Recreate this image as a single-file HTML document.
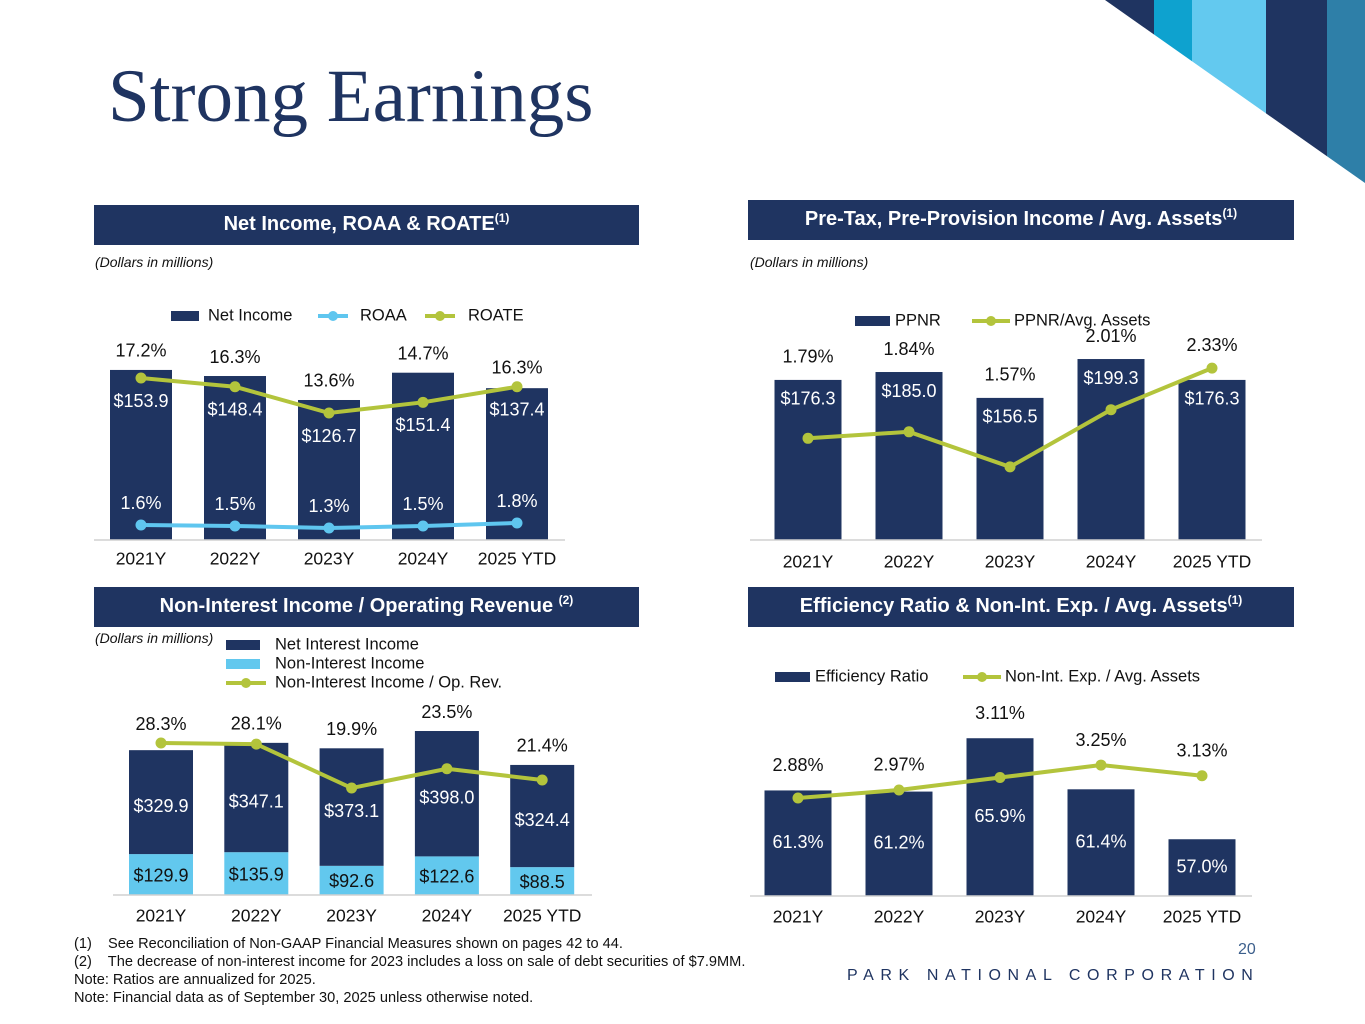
<!DOCTYPE html>
<html><head><meta charset="utf-8"><style>
body{margin:0;width:1365px;height:1024px;background:#fff;overflow:hidden;position:relative;font-family:"Liberation Sans",sans-serif}
.hdr{position:absolute;background:#1f3461;color:#fff;font-weight:bold;font-size:20px;text-align:center;line-height:38px;height:40px}
.hdr sup{font-size:12px;vertical-align:8px;line-height:0}
.dim{position:absolute;font-size:13px;font-style:italic;color:#111}
</style></head><body>
<svg style="position:absolute;left:0;top:0" width="1365" height="200">
<defs><clipPath id="cc"><polygon points="1105,0 1365,0 1365,183"/></clipPath></defs>
<g clip-path="url(#cc)"><rect x="1100" y="0" width="54" height="200" fill="#1f3461"/><rect x="1154" y="0" width="38" height="200" fill="#0ea2cf"/><rect x="1192" y="0" width="74" height="200" fill="#63c9ef"/><rect x="1266" y="0" width="61" height="200" fill="#1f3461"/><rect x="1327" y="0" width="38" height="200" fill="#2e7fa8"/></g></svg>
<div style="position:absolute;left:108px;top:54px;font-family:'Liberation Serif',serif;font-size:75px;color:#1f3461">Strong Earnings</div>
<div class="hdr" style="left:94px;top:205px;width:545px">Net Income, ROAA &amp; ROATE<sup>(1)</sup></div>
<div class="hdr" style="left:748px;top:200px;width:546px">Pre-Tax, Pre-Provision Income / Avg. Assets<sup>(1)</sup></div>
<div class="hdr" style="left:94px;top:587px;width:545px">Non-Interest Income / Operating Revenue <sup>(2)</sup></div>
<div class="hdr" style="left:748px;top:587px;width:546px">Efficiency Ratio &amp; Non-Int. Exp. / Avg. Assets<sup>(1)</sup></div>
<div class="dim" style="left:95px;top:254px;font-size:14px">(Dollars in millions)</div>
<div class="dim" style="left:750px;top:254px;font-size:14px">(Dollars in millions)</div>
<div class="dim" style="left:95px;top:630px;font-size:14px">(Dollars in millions)</div>
<svg id="ch" style="position:absolute;left:0;top:0" width="1365" height="1024"></svg>
<div style="position:absolute;left:74px;top:935px;font-size:14.6px;line-height:18px;color:#111">
<div>(1)&nbsp;&nbsp;&nbsp; See Reconciliation of Non-GAAP Financial Measures shown on pages 42 to 44.</div>
<div>(2)&nbsp;&nbsp;&nbsp; The decrease of non-interest income for 2023 includes a loss on sale of debt securities of $7.9MM.</div>
<div>Note: Ratios are annualized for 2025.</div>
<div>Note: Financial data as of September 30, 2025 unless otherwise noted.</div></div>
<div style="position:absolute;left:1238px;top:941px;font-size:16px;color:#3c5f8c">20</div>
<div style="position:absolute;left:847px;top:967px;font-size:16px;letter-spacing:6.6px;color:#1f3461">PARK NATIONAL CORPORATION</div>
<script>
const categories=["2021Y","2022Y","2023Y","2024Y","2025 YTD"];
const netIncome=[153.9,148.4,126.7,151.4,137.4];
const roaa=[1.6,1.5,1.3,1.5,1.8];
const roate=[17.2,16.3,13.6,14.7,16.3];
const ppnr=[176.3,185.0,156.5,199.3,176.3];
const ppnrAssets=[1.79,1.84,1.57,2.01,2.33];
const netInterestIncome=[329.9,347.1,373.1,398.0,324.4];
const nonInterestIncome=[129.9,135.9,92.6,122.6,88.5];
const nonIntShare=[28.3,28.1,19.9,23.5,21.4];
const efficiency=[61.3,61.2,65.9,61.4,57.0];
const nonIntExp=[2.88,2.97,3.11,3.25,3.13];

const NAVY="#1f3461",LB="#62c8ee",GR="#b3c43c";
const svg=document.getElementById('ch');
function el(tag,attrs,name,txt){const e=document.createElementNS("http://www.w3.org/2000/svg",tag);for(const k in attrs)e.setAttribute(k,attrs[k]);


if(txt!==undefined)e.textContent=txt;svg.appendChild(e);return e;}
function txt(x,y,s,name,color,size){return el('text',{x:x,y:y,'text-anchor':'middle','font-size':size||18,fill:color||'#111','font-family':'Liberation Sans, sans-serif','dominant-baseline':'middle'},name,s);}
function axisCats(x0,step,base,y,x1,x2){el('line',{x1:x1,x2:x2,y1:base,y2:base,stroke:'#d0d0d0','stroke-width':1.5},'x-axis-line');
categories.forEach((c,i)=>txt(x0+i*step,y,c,'x-tick-label','#111',17.5));}
function line(vals,xf,yf,color,name,w){const pts=vals.map((v,i)=>xf(i)+','+yf(v)).join(' ');
el('polyline',{points:pts,fill:'none',stroke:color,'stroke-width':w||4},name);
vals.forEach((v,i)=>el('circle',{cx:xf(i),cy:yf(v),r:5.5,fill:color},name+'-point'));}
function legRect(x,y,w,c,name){el('rect',{x:x,y:y-5,width:w,height:10,fill:c},name);}
function legLine(x,y,w,c,name){el('line',{x1:x,x2:x+w,y1:y,y2:y,stroke:c,'stroke-width':4},name);el('circle',{cx:x+w/2,cy:y,r:5,fill:c},name+'-marker');}
function legTxt(x,y,s,name){const t=txt(x,y,s,name,'#111',16.5);t.setAttribute('text-anchor','start');}

// Chart 1
{const x=i=>141+i*94,base=540,bw=62,by=v=>base-v*1.105,ly=v=>545.2-v*9.72,ay=v=>541-v*10;
legRect(171,316,28,NAVY,'legend-net-income');legTxt(208,316,'Net Income','legend-net-income-label');
legLine(318,316,30,"#5fc6ef",'legend-roaa');legTxt(360,316,'ROAA','legend-roaa-label');
legLine(425,316,30,GR,'legend-roate');legTxt(468,316,'ROATE','legend-roate-label');
netIncome.forEach((v,i)=>{el('rect',{x:x(i)-bw/2,y:by(v),width:bw,height:base-by(v),fill:NAVY},'net-income-bar');});
axisCats(141,94,base,560,94,565);
line(roate,x,ly,GR,'roate-line');
netIncome.forEach((v,i)=>txt(x(i),Math.max(by(v)+20,ly(roate[i])+24),'$'+v.toFixed(1),'net-income-label','#fff'));
roate.forEach((v,i)=>txt(x(i),Math.min(ly(v),by(netIncome[i]))-18,v.toFixed(1)+'%','roate-label'));
line(roaa,x,ay,"#5fc6ef",'roaa-line');
roaa.forEach((v,i)=>txt(x(i),ay(v)-21,v.toFixed(1)+'%','roaa-label','#fff'));}

// Chart 2
{const x=i=>808+i*101,base=540,bw=67,by=v=>base-v*0.908,ly=v=>671-v*130;
legRect(855,321,35,NAVY,'legend-ppnr');legTxt(895,321,'PPNR','legend-ppnr-label');
legLine(972,321,38,GR,'legend-ppnr-assets');legTxt(1014,321,'PPNR/Avg. Assets','legend-ppnr-assets-label');
ppnr.forEach((v,i)=>{el('rect',{x:x(i)-bw/2,y:by(v),width:bw,height:base-by(v),fill:NAVY},'ppnr-bar');
txt(x(i),by(v)+20,'$'+v.toFixed(1),'ppnr-label','#fff');});
axisCats(808,101,base,563,750,1262);
line(ppnrAssets,x,ly,GR,'ppnr-assets-line');
ppnrAssets.forEach((v,i)=>txt(x(i),Math.min(ly(v),by(ppnr[i]))-22,v.toFixed(2)+'%','ppnr-assets-label'));}

// Chart 3
{const x=i=>161+i*95.3,base=895,bw=64,s=0.315,ly=v=>894.7-v*5.36;
legRect(226,645,34,NAVY,'legend-net-interest');legTxt(275,645,'Net Interest Income','legend-net-interest-label');
legRect(226,664,34,LB,'legend-non-interest');legTxt(275,664,'Non-Interest Income','legend-non-interest-label');
legLine(226,683,40,GR,'legend-non-int-share');legTxt(275,683,'Non-Interest Income / Op. Rev.','legend-non-int-share-label');
categories.forEach((c,i)=>{const n=nonInterestIncome[i],t=netInterestIncome[i];const y1=base-n*s,y2=y1-t*s;
el('rect',{x:x(i)-bw/2,y:y1,width:bw,height:n*s,fill:LB},'non-interest-bar');
el('rect',{x:x(i)-bw/2,y:y2,width:bw,height:t*s,fill:NAVY},'net-interest-bar');
txt(x(i),(y1+base)/2+2,'$'+n.toFixed(1),'non-interest-label','#111');
txt(x(i),(y1+y2)/2+5,'$'+t.toFixed(1),'net-interest-label','#fff');});
axisCats(161,95.3,base,917,113,592);
line(nonIntShare,x,ly,GR,'non-int-share-line');
nonIntShare.forEach((v,i)=>txt(x(i),Math.min(ly(v),base-(netInterestIncome[i]+nonInterestIncome[i])*s)-18,v.toFixed(1)+'%','non-int-share-label'));}

// Chart 4
{const x=i=>798+i*101,base=896,bw=67,by=v=>base-(v-52)*11.35,ly=v=>798-(v-2.88)*89;
legRect(775,677,35,NAVY,'legend-efficiency');legTxt(815,677,'Efficiency Ratio','legend-efficiency-label');
legLine(963,677,38,GR,'legend-non-int-exp');legTxt(1005,677,'Non-Int. Exp. / Avg. Assets','legend-non-int-exp-label');
efficiency.forEach((v,i)=>{el('rect',{x:x(i)-bw/2,y:by(v),width:bw,height:base-by(v),fill:NAVY},'efficiency-bar');
txt(x(i),(by(v)+base)/2,v.toFixed(1)+'%','efficiency-label','#fff');});
axisCats(798,101,base,918,750,1252);
line(nonIntExp,x,ly,GR,'non-int-exp-line');
nonIntExp.forEach((v,i)=>txt(x(i),Math.min(ly(v),by(efficiency[i]))-24,v.toFixed(2)+'%','non-int-exp-label'));}
</script>
</body></html>
